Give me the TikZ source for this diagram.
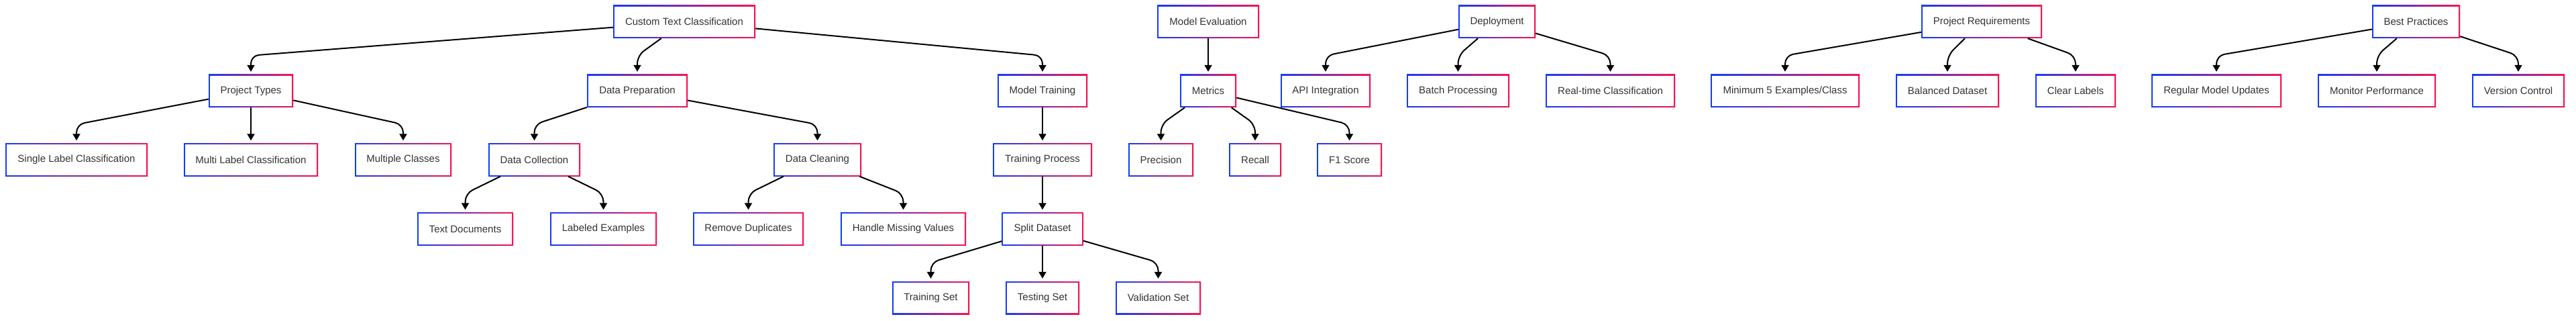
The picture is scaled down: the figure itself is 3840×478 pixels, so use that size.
\documentclass[tikz,border=0pt]{standalone}
\usepackage{fontspec}
\setmainfont{Liberation Sans}
\usetikzlibrary{arrows.meta,shadows}
\definecolor{gblue}{RGB}{20,60,250}
\definecolor{gred}{RGB}{250,20,80}
\definecolor{txt}{RGB}{51,51,51}
\tikzset{
  gbox/.style={rectangle, minimum height=49pt, inner sep=0pt, text=txt,
    font=\fontsize{15}{18}\selectfont,
    left color=gblue, right color=gred,
    drop shadow={opacity=0.12, shadow xshift=1.2pt, shadow yshift=-1.2pt},
    path picture={\fill[white] ([shift={(1.8pt,1.8pt)}]path picture bounding box.south west) rectangle ([shift={(-1.8pt,-1.8pt)}]path picture bounding box.north east);}},
  conn/.style={draw=black, line width=2pt, rounded corners=12pt,
    -{Triangle[length=10pt,width=11pt]}, shorten >=4pt},
}
\newcommand{\bx}[5]{\node[gbox, minimum width=#4pt] (#1) at (#2,#3) {#5};}
\newcommand{\lnk}[2]{\draw[conn] (#1) -- ([yshift=28pt]#2.north) -- (#2.north);}
\begin{document}
\begin{tikzpicture}[x=1pt,y=-1pt]
\useasboundingbox[fill=white] (0,0) rectangle (3840,478);
% row 0
\bx{cust}{1020}{32.5}{212}{Custom Text Classification}
\bx{meval}{1801}{32.5}{152}{Model Evaluation}
\bx{depl}{2231.5}{32.5}{115}{Deployment}
\bx{preq}{2954}{32.5}{180}{Project Requirements}
\bx{bestp}{3601.5}{32.5}{131}{Best Practices}
% row 1
\bx{ptypes}{374}{135.5}{126}{Project Types}
\bx{dprep}{950}{135.5}{150}{Data Preparation}
\bx{mtrain}{1554}{135.5}{134}{Model Training}
\bx{metrics}{1801}{135.5}{84}{Metrics}
\bx{api}{1976}{135.5}{134}{API Integration}
\bx{batch}{2173.5}{135.5}{153}{Batch Processing}
\bx{rtc}{2400.5}{135.5}{193}{Real-time Classification}
\bx{min5}{2661}{135.5}{222}{Minimum 5 Examples/Class}
\bx{balanced}{2903}{135.5}{154}{Balanced Dataset}
\bx{clear}{3094}{135.5}{120}{Clear Labels}
\bx{regular}{3304}{135.5}{194}{Regular Model Updates}
\bx{monitor}{3543}{135.5}{176}{Monitor Performance}
\bx{version}{3754}{135.5}{138}{Version Control}
% row 2
\bx{single}{114}{238}{212}{Single Label Classification}
\bx{multi}{374}{238}{200}{Multi Label Classification}
\bx{multiple}{601}{238}{144}{Multiple Classes}
\bx{dcoll}{796.5}{238}{137}{Data Collection}
\bx{dclean}{1218.5}{238}{131}{Data Cleaning}
\bx{tproc}{1554}{238}{148}{Training Process}
\bx{precision}{1730.5}{238}{97}{Precision}
\bx{recall}{1871}{238}{78}{Recall}
\bx{fone}{2011.5}{238}{97}{F1 Score}
% row 3
\bx{textdocs}{693.5}{341}{143}{Text Documents}
\bx{labeled}{899.5}{341}{159}{Labeled Examples}
\bx{removedup}{1115.5}{341}{165}{Remove Duplicates}
\bx{handle}{1346.5}{341}{187}{Handle Missing Values}
\bx{split}{1554}{341}{121}{Split Dataset}
% row 4
\bx{trainset}{1387.5}{443.5}{115}{Training Set}
\bx{testset}{1554}{443.5}{110}{Testing Set}
\bx{valset}{1726.5}{443.5}{127}{Validation Set}
% connectors
\lnk{cust}{ptypes}
\lnk{cust}{dprep}
\lnk{cust}{mtrain}
\lnk{ptypes}{single}
\lnk{ptypes}{multi}
\lnk{ptypes}{multiple}
\lnk{dprep}{dcoll}
\lnk{dprep}{dclean}
\lnk{dcoll}{textdocs}
\lnk{dcoll}{labeled}
\lnk{dclean}{removedup}
\lnk{dclean}{handle}
\lnk{mtrain}{tproc}
\lnk{tproc}{split}
\lnk{split}{trainset}
\lnk{split}{testset}
\lnk{split}{valset}
\lnk{meval}{metrics}
\lnk{metrics}{precision}
\lnk{metrics}{recall}
\lnk{metrics}{fone}
\lnk{depl}{api}
\lnk{depl}{batch}
\lnk{depl}{rtc}
\lnk{preq}{min5}
\lnk{preq}{balanced}
\lnk{preq}{clear}
\lnk{bestp}{regular}
\lnk{bestp}{monitor}
\lnk{bestp}{version}
\end{tikzpicture}
\end{document}
